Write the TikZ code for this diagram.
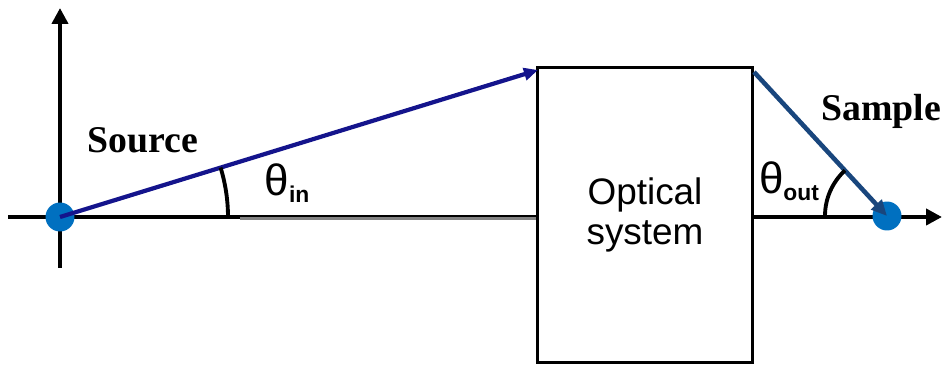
\documentclass[tikz,border=0pt]{standalone}
\usepackage{fontspec}
\setmainfont{Liberation Sans}
\newfontfamily\labserif{Liberation Serif}
\usetikzlibrary{arrows.meta}
\definecolor{dotblue}{RGB}{0,112,192}
\definecolor{rayinc}{RGB}{20,20,140}
\definecolor{rayoutc}{RGB}{25,70,125}
\definecolor{axisgray}{RGB}{130,130,130}
\begin{document}
\begin{tikzpicture}[x=0.02cm,y=0.02cm,
  axisline/.style={line width=2.8pt,black},
  axistip/.style={-{Triangle[length=9pt,width=9pt]}},
  raytip/.style={-{Triangle[length=8pt,width=7pt]}},
  dotnode/.style={circle,fill=dotblue,inner sep=0pt,minimum size=16.5pt},
  boxnode/.style={draw=black,line width=1.5pt,fill=white,minimum width=216*0.567pt,minimum height=296*0.567pt,inner sep=0pt,
    align=center,font=\fontsize{21}{23}\selectfont},
  lbl/.style={inner sep=0pt,font=\labserif\bfseries\fontsize{21.5}{24}\selectfont},
  anglbl/.style={inner sep=0pt},
  arcline/.style={line width=2.2pt,black}]
\useasboundingbox (0,0) rectangle (944,365);
% axes
\coordinate (vbot) at (60,97);
\coordinate (vtop) at (60,357);
\coordinate (hleft) at (8,148);
\coordinate (hmid) at (240,148);
\coordinate (hbox) at (537,147);
\draw[axisline,axistip] (vbot) -- (vtop);
\draw[axisline] (hleft) -- (hmid);
\draw[line width=2.4pt,axisgray] (240,147) -- (hbox);
\draw[line width=1.1pt,black] (240,148.6) -- (537,148.6);
% optical system box
\node[boxnode] (opt) at (645,150) {Optical\\system};
\coordinate (hright) at (942,148);
\draw[axisline,axistip] (opt.east |- hright) -- (hright);
% dots
\node[dotnode] (src) at (60,148) {};
\node[dotnode] (smp) at (887,149) {};
% rays
\coordinate (rayend) at (538,295);
\coordinate (raystart) at (754,293);
\draw[line width=2.4pt,rayinc,raytip] (src.center) -- (rayend);
\draw[line width=2.6pt,rayoutc,-{Triangle[length=9pt,width=8pt]}] (raystart) -- (smp.center);
% angle arcs
\draw[arcline] (src.center) ++(0:168) arc[start angle=0,end angle=17.1,radius=168];
\draw[arcline] (smp.center) ++(132.7:62) arc[start angle=132.7,end angle=180,radius=62];
% labels
\node[lbl] (srclbl) at (143,225) {Source};
\node[lbl] (smplbl) at (881,254) {Sample};
\node[anglbl] (thin) at (287,182) {{\fontsize{25}{25}\selectfont θ}{\fontsize{13}{13}\selectfont\bfseries\raisebox{-4pt}{in}}};
\node[anglbl] (thout) at (789,184) {{\fontsize{25}{25}\selectfont θ}{\fontsize{13}{13}\selectfont\bfseries\raisebox{-4pt}{out}}};
\end{tikzpicture}
\end{document}
